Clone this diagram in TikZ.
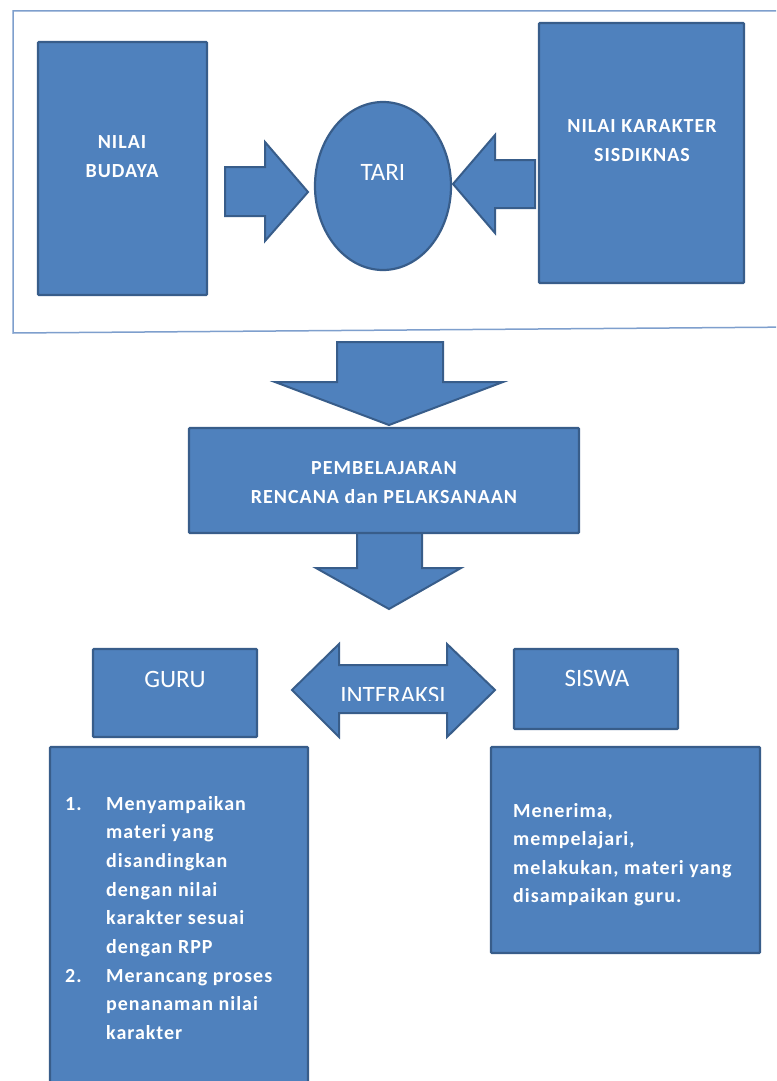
\documentclass[tikz,border=0pt]{standalone}
\usepackage{fontspec}
\setmainfont{Carlito}
\newfontfamily\widef[LetterSpace=5]{Carlito}
\usetikzlibrary{shapes.geometric}
\definecolor{fillb}{HTML}{4F81BD}
\definecolor{edgeb}{HTML}{385D8A}
\definecolor{frameb}{HTML}{7E9FCD}
\begin{document}
\begin{tikzpicture}[x=1pt,y=-1pt,
  box/.style={draw=edgeb, fill=fillb, line width=2.2pt, rounded corners=1pt, inner sep=0pt},
  blockarrow/.style={draw=edgeb, fill=fillb, line width=2pt, line join=miter},
  lbl/.style={text=white, align=center, inner sep=0pt},
  bigtxt/.style={lbl, font=\fontsize{25}{30}\selectfont},
  captxt/.style={lbl, font=\widef\bfseries\fontsize{20}{29}\selectfont},
  listtxt/.style={text=white, inner sep=0pt, anchor=base west},
]
\useasboundingbox (0,0) rectangle (776,1081);
\clip (0,0) rectangle (776,1081);
\fill[white] (0,0) rectangle (776,1081);

% frame around the top group
\draw[frameb, line width=1.5pt] (800,11) -- (13,11) -- (13,333) -- (800,327);

% top row
\node[box, minimum width=169, minimum height=253] (budaya) at (122.5,168.5) {};
\node[captxt] (budayatxt) at (122,157) {NILAI\\BUDAYA};

\node[box, minimum width=205, minimum height=260] (karakter) at (641.5,153) {};
\node[captxt] (karaktertxt) at (642,141) {NILAI KARAKTER\\SISDIKNAS};

\node[ellipse, draw=edgeb, fill=fillb, line width=2.2pt, minimum width=136, minimum height=168, inner sep=0pt] (tari) at (383,186) {};
\node[bigtxt] (taritxt) at (383,172) {TARI};

\draw[blockarrow] (225,167) -- (265,167) -- (265,142) -- (308,192) -- (265,241) -- (265,216) -- (225,216) -- cycle;
\draw[blockarrow] (535,160) -- (495,160) -- (495,135) -- (453,184) -- (495,233) -- (495,208) -- (535,208) -- cycle;

% middle
\draw[blockarrow] (337,342) -- (443,342) -- (443,382) -- (503,382) -- (389,425) -- (275,382) -- (337,382) -- cycle;
\draw[blockarrow] (357,530) -- (422,530) -- (422,568) -- (461,568) -- (389,609) -- (316,568) -- (357,568) -- cycle;
\node[box, minimum width=390, minimum height=105] (pemb) at (384,480.5) {};
\node[captxt] (pembtxt) at (384,483) {PEMBELAJARAN\\RENCANA dan PELAKSANAAN};

% guru / siswa
\node[box, minimum width=164, minimum height=88] (guru) at (175,693) {};
\node[bigtxt] (gurutxt) at (175,679) {GURU};
\node[box, minimum width=164, minimum height=80] (siswa) at (596,689) {};
\node[bigtxt] (siswatxt) at (597,678) {SISWA};

\draw[blockarrow] (292,690) -- (339,644) -- (339,665) -- (447,665) -- (447,644) -- (495,690) -- (447,737) -- (447,713) -- (339,713) -- (339,737) -- cycle;
\begin{scope}
  \clip (330,670) rectangle (460,700.5);
  \node[lbl, anchor=base, font=\fontsize{25}{30}\selectfont] (interaksi) at (393,703) {INTERAKSI};
\end{scope}

% lists
\node[box, minimum width=258, minimum height=353] (gurulist) at (179,923.5) {};
\node[listtxt] (gurulisttxt) at (65,810) {\widef\bfseries\fontsize{20}{28.7}\selectfont\renewcommand\arraystretch{1}%
\begin{tabular}[t]{@{}p{41pt}@{}l@{}}
1. & Menyampaikan\\
   & materi yang\\
   & disandingkan\\
   & dengan nilai\\
   & karakter sesuai\\
   & dengan RPP\\
2. & Merancang proses\\
   & penanaman nilai\\
   & karakter
\end{tabular}};

\node[box, minimum width=269, minimum height=206] (siswalist) at (625.5,850) {};
\node[listtxt] (siswalisttxt) at (513,817) {\widef\bfseries\fontsize{20}{28.5}\selectfont\renewcommand\arraystretch{1}%
\begin{tabular}[t]{@{}l@{}}
Menerima,\\
mempelajari,\\
melakukan, materi yang\\
disampaikan guru.
\end{tabular}};
\end{tikzpicture}
\end{document}
